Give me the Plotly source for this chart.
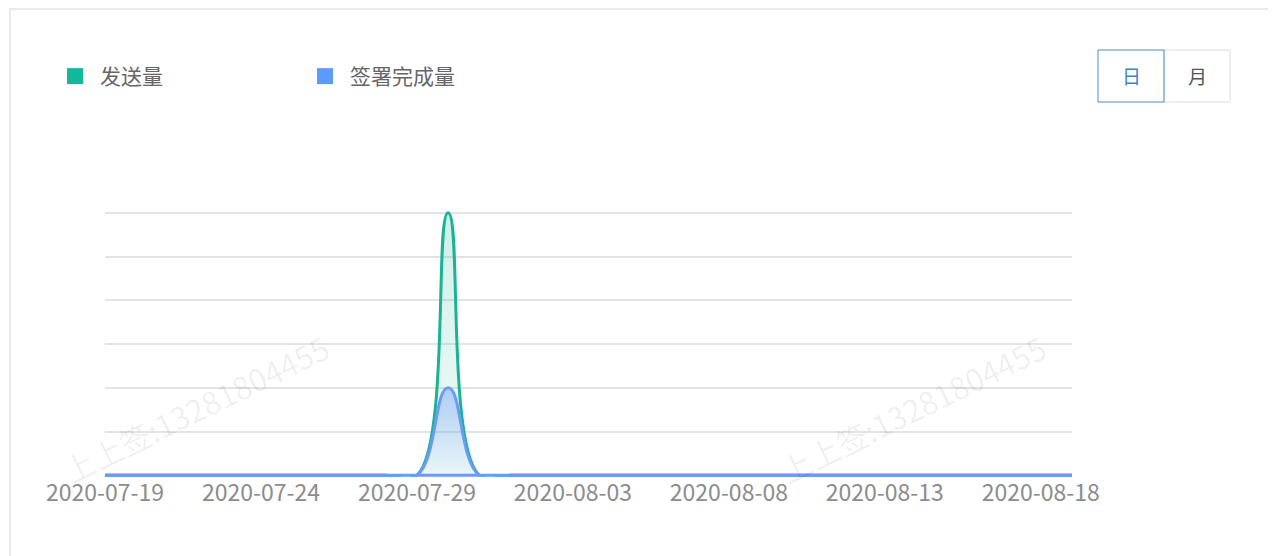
import plotly.graph_objects as go
import pandas as pd

dates = pd.date_range("2020-07-19", "2020-08-19", freq="D").strftime("%Y-%m-%d").tolist()
sent = [0]*11 + [6] + [0]*20
signed = [0]*11 + [2] + [0]*20
series_names = ["发送量", "签署完成量"]
tick_labels = ["2020-07-19", "2020-07-24", "2020-07-29", "2020-08-03", "2020-08-08", "2020-08-13", "2020-08-18"]

OFF = 8  # page body margin
W, H = 1276 - OFF, 556 - OFF
YMIN, YMAX = -0.04, 6.04
UNIT = (475 - 213) / 6.0
L, R = 105 - OFF, 1072 - OFF
T = round(213 - (YMAX - 6) * UNIT) - OFF
B = round(475 - YMIN * UNIT) - OFF
def px(x):  # reference pixel -> paper
    return (x - OFF - L) / (R - L)
def py(y):
    return (B - (y - OFF)) / (B - T)

FONT = "Noto Sans CJK SC"
GREEN = "#1ab394"
BLUE = "#6b9cf5"

fig = go.Figure()
fig.add_trace(go.Scatter(
    x=dates, y=sent, mode="lines", name=series_names[0], showlegend=False,
    line=dict(color=GREEN, width=3, shape="spline", smoothing=1.3),
    fill="tozeroy",
    fillgradient=dict(type="vertical",
                      colorscale=[[0, "rgba(26,179,148,0.06)"], [1, "rgba(26,179,148,0.2)"]])))
fig.add_trace(go.Scatter(
    x=dates, y=signed, mode="lines", name=series_names[1], showlegend=False,
    line=dict(color=BLUE, width=3, shape="spline", smoothing=1.3),
    fill="tozeroy",
    fillgradient=dict(type="vertical",
                      colorscale=[[0, "rgba(107,156,245,0.03)"], [1, "rgba(107,156,245,0.45)"]])))
# legend entries (square markers)
for name, col in zip(series_names, ["#12b89a", "#5b9bff"]):
    fig.add_trace(go.Scatter(x=[None], y=[None], mode="markers", name=name,
                             marker=dict(symbol="square", size=16, color=col)))

shapes = []
# card border
shapes.append(dict(type="rect", xref="paper", yref="paper",
                   x0=px(10), x1=px(1320), y0=py(620), y1=py(9),
                   line=dict(color="#e2e2e2", width=1.5), layer="below"))
# baseline of the series (value 0)
shapes.append(dict(type="line", xref="paper", yref="y", x0=0, x1=1, y0=0, y1=0,
                   line=dict(color=BLUE, width=3), layer="above"))
# buttons
shapes.append(dict(type="rect", xref="paper", yref="paper",
                   x0=px(1164), x1=px(1230), y0=py(102), y1=py(50),
                   line=dict(color="#dcdcdc", width=1)))
shapes.append(dict(type="rect", xref="paper", yref="paper",
                   x0=px(1098), x1=px(1164), y0=py(102), y1=py(50),
                   line=dict(color="#4a90c9", width=1)))

annotations = [
    dict(text="日", x=px(1131), y=py(76), xref="paper", yref="paper", showarrow=False,
         xanchor="center", yanchor="middle",
         font=dict(family=FONT, size=19, color="#3d85c6")),
    dict(text="月", x=px(1197), y=py(76), xref="paper", yref="paper", showarrow=False,
         xanchor="center", yanchor="middle",
         font=dict(family=FONT, size=19, color="#555555")),
]
# watermarks
for (cx, cy) in [(195, 408), (912, 408)]:
    annotations.append(dict(text="上上签:13281804455", x=px(cx), y=py(cy), xref="paper", yref="paper",
                            showarrow=False, textangle=-26, xanchor="center", yanchor="middle",
                            font=dict(family=FONT, size=31, color="rgba(0,0,0,0.065)")))

fig.update_layout(
    width=W, height=H,
    margin=dict(l=L, r=W - R, t=T, b=H - B),
    paper_bgcolor="white", plot_bgcolor="white",
    showlegend=True,
    legend=dict(orientation="h", x=px(50), y=py(56), xanchor="left", yanchor="top",
                itemwidth=40, entrywidth=195, font=dict(family=FONT, size=21, color="#666666"),
                bgcolor="rgba(0,0,0,0)"),
    xaxis=dict(type="date", range=[dates[0], dates[-1]],
               tickmode="array", tickvals=tick_labels, ticktext=tick_labels,
               showgrid=False, zeroline=False, showline=False,
               ticks="", tickfont=dict(family=FONT, size=23, color="#8c8c8c")),
    yaxis=dict(range=[YMIN, YMAX], dtick=1, tick0=0, showticklabels=False,
               showgrid=True, gridcolor="#e3e3e3", gridwidth=1.5, zeroline=False, showline=False),
    shapes=shapes, annotations=annotations,
    hovermode=False,
)
fig.write_html("out.html")
